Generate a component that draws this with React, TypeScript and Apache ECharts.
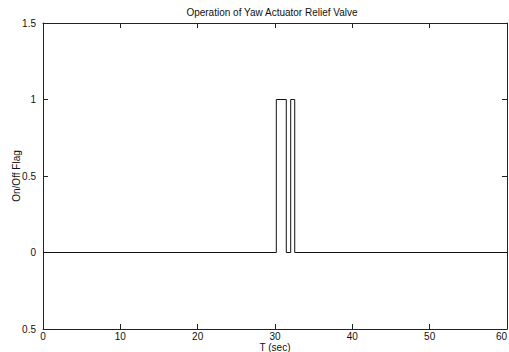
import React, { useEffect, useRef } from "react";
import * as echarts from "echarts";

const titleText = "Operation of Yaw Actuator Relief Valve";
const xName = "T (sec)";
const yName = "On/Off Flag";
// switching instants (s) and flag value after each instant
const switchTimes = [0, 30.17, 31.46, 32.03, 32.55, 60];
const flagValues = [0, 1, 0, 1, 0, 0];
const xTicks = [0, 10, 20, 30, 40, 50, 60];
const yTickLabels: Record<string, string> = { "-0.5": "0.5", "0": "0", "0.5": "0.5", "1": "1", "1.5": "1.5" };

export default function App() {
  const ref = useRef<HTMLDivElement>(null);
  useEffect(() => {
    if (!ref.current) return;
    const chart = echarts.init(ref.current, undefined, { renderer: "svg" });
    const font = "Liberation Sans";
    const data = switchTimes.map((t, i) => [t, flagValues[i]]);
    const line = () => ({ show: true, onZero: false, lineStyle: { color: "#222", width: 1 } });
    const tick = () => ({ show: true, inside: true, length: 5, lineStyle: { color: "#222", width: 1 } });
    chart.setOption({
      animation: false,
      backgroundColor: "#ffffff",
      title: {
        text: titleText,
        left: 267,
        top: 2,
        textAlign: "center",
        textStyle: { fontFamily: font, fontSize: 10, fontWeight: "normal", color: "#111" },
      },
      grid: { left: 43, right: 2, top: 23, bottom: 23, containLabel: false, outerBoundsMode: "none" },
      xAxis: [
        {
          type: "value",
          min: 0,
          max: 60,
          interval: 10,
          name: xName,
          nameLocation: "middle",
          nameGap: 13,
          nameMoveOverlap: false,
          nameTextStyle: { fontFamily: font, fontSize: 10, lineHeight: 10, color: "#111", verticalAlign: "top" },
          axisLine: line(),
          axisTick: tick(),
          axisLabel: {
            fontFamily: font,
            fontSize: 10,
            lineHeight: 10,
            color: "#111",
            margin: 2,
            alignMaxLabel: "right",
            formatter: (v: number) => (xTicks.includes(v) ? String(v) : ""),
          },
          splitLine: { show: false },
        },
        {
          type: "value",
          position: "top",
          min: 0,
          max: 60,
          interval: 10,
          axisLine: line(),
          axisTick: tick(),
          axisLabel: { show: false },
          splitLine: { show: false },
        },
      ],
      yAxis: [
        {
          type: "value",
          min: -0.5,
          max: 1.5,
          interval: 0.5,
          name: yName,
          nameLocation: "middle",
          nameGap: 22,
          nameMoveOverlap: false,
          nameTextStyle: { fontFamily: font, fontSize: 10, color: "#111" },
          axisLine: line(),
          axisTick: tick(),
          axisLabel: {
            fontFamily: font,
            fontSize: 10,
            color: "#111",
            margin: 7,
            formatter: (v: number) => yTickLabels[String(v)] ?? String(v),
          },
          splitLine: { show: false },
        },
        {
          type: "value",
          position: "right",
          min: -0.5,
          max: 1.5,
          interval: 0.5,
          axisLine: line(),
          axisTick: tick(),
          axisLabel: { show: false },
          splitLine: { show: false },
        },
      ],
      series: [
        {
          type: "line",
          data,
          step: "end",
          showSymbol: false,
          symbol: "none",
          lineStyle: { color: "#111", width: 1 },
        },
      ],
    });
    return () => chart.dispose();
  }, []);
  return <div ref={ref} style={{ width: 509, height: 352, position: "absolute", left: 0, top: 0 }} />;
}
